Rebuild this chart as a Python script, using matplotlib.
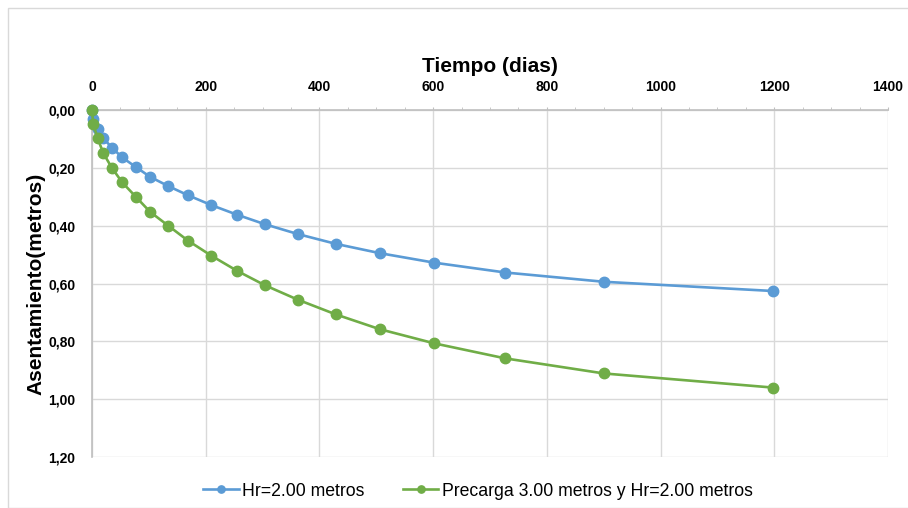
import matplotlib
matplotlib.use("Agg")
import matplotlib.pyplot as plt
from matplotlib.patches import Rectangle
from matplotlib.ticker import FuncFormatter, MultipleLocator
import numpy as np

# data
dias = [0, 2, 10, 20, 35, 53, 77, 102, 134, 169, 210, 255, 304, 362,
        429, 506, 602, 727, 900, 1198]
hr_200 = [0.000, 0.031, 0.066, 0.098, 0.130, 0.164, 0.197, 0.231, 0.263,
          0.295, 0.329, 0.362, 0.395, 0.429, 0.463, 0.495, 0.528, 0.562,
          0.594, 0.626]
precarga = [0.000, 0.048, 0.098, 0.150, 0.200, 0.250, 0.300, 0.352, 0.400,
            0.452, 0.504, 0.556, 0.606, 0.656, 0.707, 0.758, 0.807, 0.859,
            0.911, 0.960]
labels = ["Hr=2.00 metros", "Precarga 3.00 metros y Hr=2.00 metros"]

azul = "#5B9BD5"
verde = "#70AD47"
gris = "#d9d9d9"

plt.rcParams["font.family"] = ["Liberation Sans", "DejaVu Sans"]

fig = plt.figure(figsize=(9.08, 5.08), dpi=100)
ax = fig.add_axes([92 / 908, 1 - 457 / 508, (888 - 92) / 908, (457 - 110) / 508])

# outer chart border
fig.patches.append(Rectangle((8 / 908, 0.0), 1.0, 1 - 8 / 508, transform=fig.transFigure,
                             fill=False, edgecolor=gris, linewidth=1.0))

ax.plot(dias, hr_200, color=azul, lw=1.9, marker="o", ms=7.5, label=labels[0],
        zorder=3, clip_on=False)
ax.plot(dias, precarga, color=verde, lw=1.9, marker="o", ms=7.5, label=labels[1],
        zorder=4, clip_on=False)

ax.set_xlim(0, 1400)
ax.set_ylim(1.2, 0.0)
ax.xaxis.tick_top()
ax.xaxis.set_label_position("top")
ax.xaxis.set_major_locator(MultipleLocator(200))
ax.xaxis.set_minor_locator(MultipleLocator(50))
ax.yaxis.set_major_locator(MultipleLocator(0.2))
ax.yaxis.set_major_formatter(FuncFormatter(lambda v, p: f"{v:.2f}".replace(".", ",")))

ax.grid(True, color=gris, lw=1.0)
ax.set_axisbelow(True)
for s in ["right", "bottom"]:
    ax.spines[s].set_visible(False)
for s in ["left", "top"]:
    ax.spines[s].set_color("#bfbfbf")
    ax.spines[s].set_linewidth(1.2)

ax.tick_params(axis="x", which="both", direction="out", length=2.5, color="#bfbfbf", pad=9)
ax.tick_params(axis="y", length=0, pad=12)
for t in ax.get_xticklabels():
    t.set_fontweight("bold")
    t.set_fontsize(10)
for t in ax.get_yticklabels():
    t.set_fontweight("bold")
    t.set_fontsize(10)

ax.set_xlabel("Tiempo (dias)", fontsize=15, fontweight="bold", labelpad=6)
ax.set_ylabel("Asentamiento(metros)", fontsize=15, fontweight="bold", labelpad=2)

ax.legend(loc="center", bbox_to_anchor=(0.485, -0.098), ncol=2, frameon=False,
          fontsize=12.7, handlelength=2.0, handletextpad=0.2, columnspacing=2.2,
          markerscale=0.7)

fig.savefig("out.png", dpi=100)
